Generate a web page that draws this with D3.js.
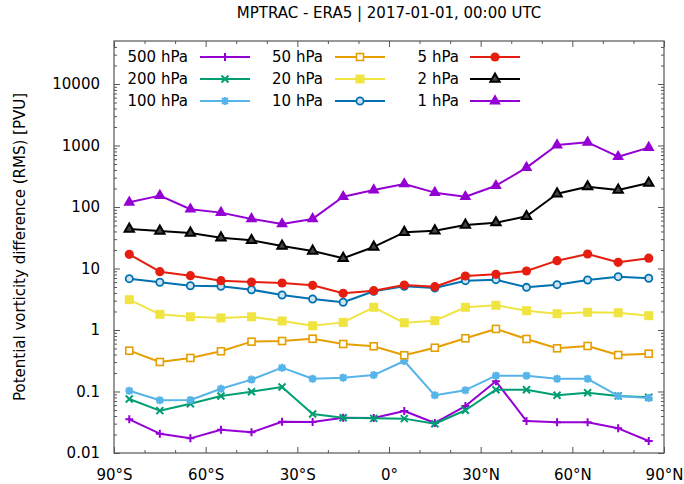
<!DOCTYPE html>
<html>
<head>
<meta charset="utf-8">
<script src="https://cdn.jsdelivr.net/npm/d3@7/dist/d3.min.js"></script>
<style>
  html, body { margin: 0; padding: 0; background: #fff; }
  svg text { font-family: "DejaVu Sans", sans-serif; fill: #000; }
</style>
</head>
<body>
<svg id="chart" width="684" height="484"></svg>
<script>
// Latitude bin centres (degrees, south negative)
const latitudes = [-85, -75, -65, -55, -45, -35, -25, -15, -5, 5, 15, 25, 35, 45, 55, 65, 75, 85];

// RMS potential vorticity difference per pressure level [PVU]
const pv500 = [0.0353, 0.0206, 0.0173, 0.0239, 0.0217, 0.0323, 0.0320, 0.0375, 0.0371, 0.0482, 0.0308, 0.0581, 0.1466, 0.0331, 0.0316, 0.0316, 0.0252, 0.0157];
const pv200 = [0.0755, 0.0488, 0.0634, 0.0845, 0.0993, 0.118, 0.0431, 0.0375, 0.0366, 0.0362, 0.0299, 0.0495, 0.107, 0.107, 0.0867, 0.0956, 0.0845, 0.0805];
const pv100 = [0.103, 0.0719, 0.0728, 0.111, 0.156, 0.244, 0.161, 0.168, 0.185, 0.313, 0.0867, 0.105, 0.181, 0.181, 0.161, 0.161, 0.0845, 0.0784];
const pv50  = [0.461, 0.302, 0.351, 0.451, 0.646, 0.662, 0.722, 0.592, 0.543, 0.388, 0.515, 0.733, 1.04, 0.714, 0.504, 0.55, 0.392, 0.412];
const pv20  = [3.11, 1.80, 1.64, 1.57, 1.64, 1.40, 1.17, 1.33, 2.34, 1.31, 1.42, 2.34, 2.52, 2.06, 1.84, 1.94, 1.91, 1.71];
const pv10  = [6.83, 5.97, 5.25, 5.13, 4.52, 3.71, 3.19, 2.82, 4.26, 5.13, 4.82, 6.34, 6.58, 4.94, 5.46, 6.5, 7.36, 6.93];
const pv5   = [17.0, 8.87, 7.64, 6.34, 6.03, 5.81, 5.33, 3.95, 4.36, 5.39, 5.06, 7.55, 8.04, 9.1, 13.4, 17.2, 12.6, 14.7];
const pv2   = [43.9, 40.7, 37.8, 31.7, 28.7, 23.2, 19.3, 14.7, 22.4, 38.8, 41.2, 51, 55.6, 70.6, 164, 214, 189, 245];
const pv1   = [119, 153, 92, 81, 64, 53, 64, 147, 189, 237, 171, 147, 222, 436, 1019, 1124, 657, 922];

const levelLabels = ["500 hPa", "200 hPa", "100 hPa", "50 hPa", "20 hPa", "10 hPa", "5 hPa", "2 hPa", "1 hPa"];
const levelValues = [pv500, pv200, pv100, pv50, pv20, pv10, pv5, pv2, pv1];
const levelColors = ["#9400d3", "#009e73", "#56b4e9", "#e69f00", "#f0e442", "#0072b2", "#e51e10", "#000000", "#9400d3"];
const levelMarkers = ["plus", "cross", "star", "squareOpen", "square", "circleOpen", "circle", "triangleOpen", "triangle"];

const xTickValues = [-90, -60, -30, 0, 30, 60, 90];
const xTickLabels = ["90°S", "60°S", "30°S", "0°", "30°N", "60°N", "90°N"];
const yTickValues = [0.01, 0.1, 1, 10, 100, 1000, 10000];
const yTickLabels = ["0.01", "0.1", "1", "10", "100", "1000", "10000"];

const titleText = "MPTRAC - ERA5 | 2017-01-01, 00:00 UTC";
const yAxisTitle = "Potential vorticity difference (RMS) [PVU]";

const svg = d3.select("#chart");
const plot = { left: 114, right: 664, top: 41, bottom: 453 };

const x = d3.scaleLinear().domain([-90, 90]).range([plot.left, plot.right]);
const y = d3.scaleLog().domain([0.01, 50000]).range([plot.bottom, plot.top]);

const borderColor = "#555";

// Minor ticks: every 10 degrees in x, 2..9 per decade in y
const xMinor = d3.range(-90, 91, 10).filter(v => v % 30 !== 0);
const yMinor = [];
for (let e = -2; e <= 4; e++) {
  for (let m = 2; m <= 9; m++) {
    const v = m * Math.pow(10, e);
    if (v < 50000) yMinor.push(v);
  }
}

// Bottom and top axes (ticks mirrored on top)
const axisBottom = d3.axisBottom(x).tickValues(xTickValues)
  .tickFormat((d, i) => xTickLabels[i]).tickSize(6).tickPadding(5).tickSizeOuter(0);
const gx = svg.append("g").attr("transform", `translate(0,${plot.bottom})`).call(axisBottom);
gx.selectAll("line").attr("transform", "scale(1,-1)");
gx.selectAll("text").attr("dy", "1.05em");

const axisBottomMinor = d3.axisBottom(x).tickValues(xMinor).tickFormat("").tickSize(3).tickSizeOuter(0);
svg.append("g").attr("transform", `translate(0,${plot.bottom})`).call(axisBottomMinor)
  .selectAll("line").attr("transform", "scale(1,-1)");

svg.append("g").attr("transform", `translate(0,${plot.top})`)
  .call(d3.axisTop(x).tickValues(xTickValues).tickFormat("").tickSize(-6).tickSizeOuter(0));
svg.append("g").attr("transform", `translate(0,${plot.top})`)
  .call(d3.axisTop(x).tickValues(xMinor).tickFormat("").tickSize(-3).tickSizeOuter(0));

// Left and right axes
const gy = svg.append("g").attr("transform", `translate(${plot.left},0)`)
  .call(d3.axisLeft(y).tickValues(yTickValues).tickFormat((d, i) => yTickLabels[i])
    .tickSize(-6).tickPadding(14).tickSizeOuter(0));
svg.append("g").attr("transform", `translate(${plot.left},0)`)
  .call(d3.axisLeft(y).tickValues(yMinor).tickFormat("").tickSize(-3).tickSizeOuter(0));
svg.append("g").attr("transform", `translate(${plot.right},0)`)
  .call(d3.axisRight(y).tickValues(yTickValues).tickFormat("").tickSize(-6).tickSizeOuter(0));
svg.append("g").attr("transform", `translate(${plot.right},0)`)
  .call(d3.axisRight(y).tickValues(yMinor).tickFormat("").tickSize(-3).tickSizeOuter(0));

svg.selectAll(".domain").remove();
svg.selectAll(".tick line").attr("stroke", borderColor).attr("stroke-width", 1);
svg.selectAll(".tick text").attr("font-size", 15).attr("font-family", "DejaVu Sans, sans-serif").attr("fill", "#000");

// Plot border
svg.append("rect")
  .attr("x", plot.left).attr("y", plot.top)
  .attr("width", plot.right - plot.left).attr("height", plot.bottom - plot.top)
  .attr("fill", "none").attr("stroke", borderColor).attr("stroke-width", 1.2);

// Titles
svg.append("text").attr("x", (plot.left + plot.right) / 2).attr("y", 18)
  .attr("text-anchor", "middle").attr("font-size", 15).text(titleText);
svg.append("text")
  .attr("transform", `translate(25,${(plot.top + plot.bottom) / 2}) rotate(-90)`)
  .attr("text-anchor", "middle").attr("font-size", 15).text(yAxisTitle);

// Marker drawing
function drawMarker(g, type, color) {
  const s = 4;
  switch (type) {
    case "plus":
      g.append("path").attr("d", `M${-s},0H${s}M0,${-s}V${s}`)
        .attr("stroke", color).attr("stroke-width", 2).attr("fill", "none");
      break;
    case "cross":
      g.append("path").attr("d", `M${-s+0.5},${-s+0.5}L${s-0.5},${s-0.5}M${-s+0.5},${s-0.5}L${s-0.5},${-s+0.5}`)
        .attr("stroke", color).attr("stroke-width", 2).attr("fill", "none");
      break;
    case "star":
      g.append("path").attr("d", `M${-s},0H${s}M0,${-s}V${s}M${-s+1},${-s+1}L${s-1},${s-1}M${-s+1},${s-1}L${s-1},${-s+1}`)
        .attr("stroke", color).attr("stroke-width", 2.2).attr("fill", "none");
      break;
    case "squareOpen":
      g.append("rect").attr("x", -3.5).attr("y", -3.5).attr("width", 7).attr("height", 7)
        .attr("stroke", color).attr("stroke-width", 1.6).attr("fill", "#fff");
      break;
    case "square":
      g.append("rect").attr("x", -4.5).attr("y", -4.5).attr("width", 9).attr("height", 9)
        .attr("fill", color);
      break;
    case "circleOpen":
      g.append("circle").attr("r", 3.6)
        .attr("stroke", color).attr("stroke-width", 1.8).attr("fill", "#cfe3f0");
      break;
    case "circle":
      g.append("circle").attr("r", 4.6).attr("fill", color);
      break;
    case "triangleOpen":
      g.append("path").attr("d", d3.symbol(d3.symbolTriangle, 38)())
        .attr("stroke", color).attr("stroke-width", 2).attr("fill", "#444");
      break;
    case "triangle":
      g.append("path").attr("d", d3.symbol(d3.symbolTriangle, 60)()).attr("fill", color);
      break;
  }
}

const line = d3.line().x(d => x(d[0])).y(d => y(d[1]));
const seriesLayer = svg.append("g");

levelValues.forEach((vals, i) => {
  const pts = latitudes.map((lat, j) => [lat, vals[j]]);
  const g = seriesLayer.append("g");
  g.append("path").datum(pts).attr("d", line)
    .attr("fill", "none").attr("stroke", levelColors[i]).attr("stroke-width", 2)
    .attr("stroke-linejoin", "round");
  pts.forEach(p => {
    const m = g.append("g").attr("transform", `translate(${x(p[0])},${y(p[1])})`);
    drawMarker(m, levelMarkers[i], levelColors[i]);
  });
});

// Legend: three columns, three rows, text right-aligned before sample line
const legendTextRight = [188, 323, 459];
const legendLineStart = [200, 335, 470];
const legendRowY = [57, 79, 101];
const legend = svg.append("g");
levelLabels.forEach((lab, i) => {
  const col = Math.floor(i / 3), row = i % 3;
  const ly = legendRowY[row];
  legend.append("text").attr("x", legendTextRight[col]).attr("y", ly)
    .attr("dy", "0.35em").attr("text-anchor", "end").attr("font-size", 15).text(lab);
  legend.append("line")
    .attr("x1", legendLineStart[col]).attr("x2", legendLineStart[col] + 50)
    .attr("y1", ly).attr("y2", ly)
    .attr("stroke", levelColors[i]).attr("stroke-width", 2);
  const m = legend.append("g").attr("transform", `translate(${legendLineStart[col] + 25},${ly})`);
  drawMarker(m, levelMarkers[i], levelColors[i]);
});
</script>
</body>
</html>
